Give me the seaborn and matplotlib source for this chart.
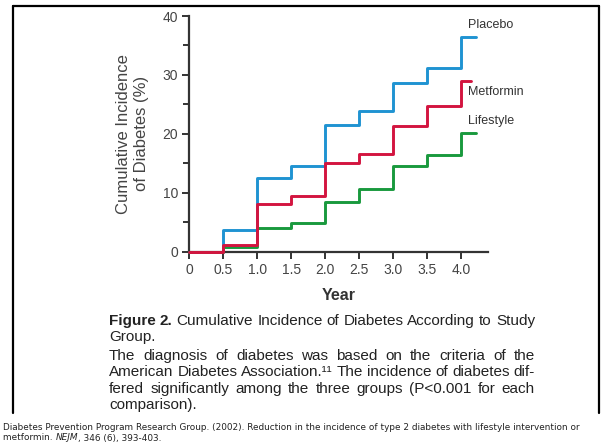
import numpy as np
import pandas as pd
import seaborn as sns
import matplotlib.pyplot as plt
from matplotlib.lines import Line2D

# cumulative incidence (%)
years = [0, 0.5, 1.0, 1.5, 2.0, 2.5, 3.0, 3.5, 4.0]
placebo = [0, 3.6, 12.5, 14.6, 21.5, 23.9, 28.6, 31.1, 36.4]
metformin = [0, 1.1, 8.1, 9.4, 15.0, 16.6, 21.3, 24.7, 28.9]
lifestyle = [0, 0.8, 4.0, 4.8, 8.4, 10.7, 14.5, 16.4, 20.1]
end_year = {'Placebo': 4.23, 'Metformin': 4.15, 'Lifestyle': 4.23}

groups = ['Placebo', 'Lifestyle', 'Metformin']  # draw order, red on top
colors = {'Placebo': '#1f93d2', 'Metformin': '#d3143f', 'Lifestyle': '#19993d'}
values = {'Placebo': placebo, 'Metformin': metformin, 'Lifestyle': lifestyle}

xtick_vals = [0, 0.5, 1.0, 1.5, 2.0, 2.5, 3.0, 3.5, 4.0]
xtick_labels = ['0', '0.5', '1.0', '1.5', '2.0', '2.5', '3.0', '3.5', '4.0']
ytick_vals = [0, 10, 20, 30, 40]

rows = []
for g in groups:
    for yr, v in zip(years + [end_year[g]], values[g] + [values[g][-1]]):
        rows.append({'year': yr, 'incidence': v, 'group': g})
df = pd.DataFrame(rows)

sns.set_style('white')
plt.rcParams['font.family'] = ['Liberation Sans', 'DejaVu Sans']

W, H = 602, 445
fig = plt.figure(figsize=(W / 100, H / 100), dpi=100)
ax = fig.add_axes([189.3 / W, 1 - 251.7 / H, 298.7 / W, 235.7 / H])

sns.lineplot(data=df, x='year', y='incidence', hue='group', hue_order=groups,
             palette=colors, drawstyle='steps-post', estimator=None,
             legend=False, linewidth=2.1, clip_on=False, zorder=3, ax=ax)

ax.set_xlim(0, 4.4)
ax.set_ylim(0, 40)
ax.set_xticks(xtick_vals)
ax.set_xticklabels(xtick_labels)
ax.set_yticks(ytick_vals)
ax.set_yticks([5, 15, 25, 35], minor=True)
for s in ['top', 'right']:
    ax.spines[s].set_visible(False)
for s in ['left', 'bottom']:
    ax.spines[s].set_color('#333333')
    ax.spines[s].set_linewidth(1.6)
ax.tick_params(axis='both', which='major', direction='out', length=5, width=1.4,
               color='#333333', labelsize=10, labelcolor='#444444', pad=3)
ax.tick_params(axis='y', which='minor', direction='out', length=4, width=1.4,
               color='#333333', left=True)
ax.tick_params(axis='x', bottom=True)
ax.tick_params(axis='y', left=True)

ax.set_xlabel('Year', fontsize=11.5, fontweight='bold', color='#333333', labelpad=8)
ax.set_ylabel('Cumulative Incidence\nof Diabetes (%)', fontsize=12, color='#444444',
              labelpad=10, linespacing=1.25)

label_pos = {'Placebo': 38.5, 'Metformin': 27.1, 'Lifestyle': 22.1}
for g, yv in label_pos.items():
    ax.text(4.10, yv, g, fontsize=9, color='#333333', ha='left', va='center')

# frame around the figure panel
border = dict(transform=fig.transFigure, color='black', linewidth=1.6)
fig.add_artist(Line2D([13 / W, 13 / W], [1 - 413 / H, 1 - 6 / H], **border))
fig.add_artist(Line2D([13 / W, 599 / W], [1 - 6 / H, 1 - 6 / H], **border))
fig.add_artist(Line2D([599 / W, 599 / W], [1 - 6 / H, 1 - 413 / H], **border))

renderer = fig.canvas.get_renderer()


def justified(words, y, x0, x1, size, justify=True):
    # words: list of (text, weight)
    texts = []
    for w, wt in words:
        t = fig.text(0, 1 - y / H, w, fontsize=size, fontweight=wt, color='#222222',
                     va='center', ha='left')
        texts.append(t)
    widths = [t.get_window_extent(renderer).width for t in texts]
    a = fig.text(0, 0, 'a a', fontsize=size)
    b = fig.text(0, 0, 'aa', fontsize=size)
    space = a.get_window_extent(renderer).width - b.get_window_extent(renderer).width
    a.remove()
    b.remove()
    if justify and len(texts) > 1:
        gap = (x1 - x0 - sum(widths)) / (len(texts) - 1)
    else:
        gap = space
    x = x0
    for t, w in zip(texts, widths):
        t.set_x(x / W)
        x += w + gap


def words_of(s, wt='normal'):
    return [(w, wt) for w in s.split()]


cap_x0, cap_x1 = 109, 535
justified([('Figure', 'bold'), ('2.', 'bold')] +
          words_of('Cumulative Incidence of Diabetes According to Study'),
          321, cap_x0, cap_x1, 11)
justified(words_of('Group.'), 337, cap_x0, cap_x1, 11, justify=False)
para = ['The diagnosis of diabetes was based on the criteria of the',
        'American Diabetes Association.\u00b9\u00b9 The incidence of diabetes dif-',
        'fered significantly among the three groups (P<0.001 for each',
        'comparison).']
para_y = [356, 372, 389, 405]
for i, (line, yy) in enumerate(zip(para, para_y)):
    justified(words_of(line), yy, cap_x0, cap_x1, 11, justify=(i < 3))

cite_size = 6.4
fig.text(3 / W, 1 - 427 / H,
         'Diabetes Prevention Program Research Group. (2002). Reduction in the incidence '
         'of type 2 diabetes with lifestyle intervention or',
         fontsize=cite_size, color='#222222', va='center', ha='left', family='DejaVu Sans')
t1 = fig.text(3 / W, 1 - 438 / H, 'metformin. ', fontsize=cite_size, color='#222222',
              va='center', ha='left', family='DejaVu Sans')
xw = 3 + t1.get_window_extent(renderer).width
t2 = fig.text(xw / W, 1 - 438 / H, 'NEJM', fontsize=cite_size, color='#222222',
              style='italic', va='center', ha='left', family='DejaVu Sans')
xw += t2.get_window_extent(renderer).width
fig.text(xw / W, 1 - 438 / H, ', 346 (6), 393-403.', fontsize=cite_size, color='#222222',
         va='center', ha='left', family='DejaVu Sans')

fig.savefig('out.png', dpi=100)
